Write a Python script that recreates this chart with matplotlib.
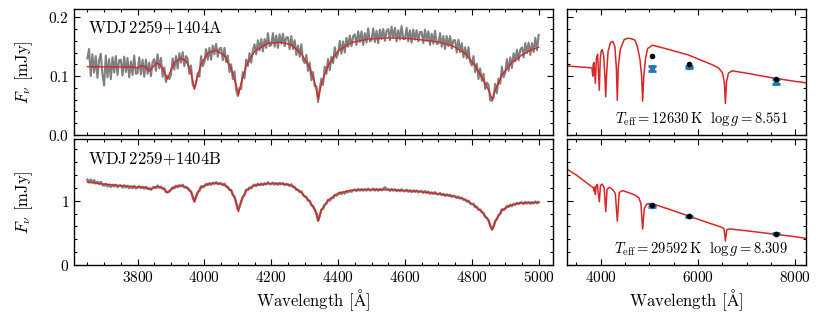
import numpy as np
import matplotlib.pyplot as plt
from matplotlib.ticker import MultipleLocator

plt.rcParams.update({
    'font.family': 'serif',
    'font.serif': ['cmr10'],
    'mathtext.fontset': 'cm',
    'axes.formatter.use_mathtext': True,
    'axes.linewidth': 1.0,
    'font.size': 11,
})

# observed spectra (every 5 A from 3650 to 5000)
obs_wave = np.arange(3650, 5001, 5)
obs_a = [
    0.130, 0.146, 0.100, 0.137, 0.106, 0.134, 0.097, 0.127, 0.138, 0.103,
    0.084, 0.135, 0.098, 0.129, 0.095, 0.132, 0.106, 0.134, 0.102, 0.127,
    0.128, 0.101, 0.133, 0.107, 0.131, 0.098, 0.125, 0.102, 0.135, 0.104,
    0.105, 0.132, 0.103, 0.128, 0.099, 0.128, 0.104, 0.123, 0.100, 0.124,
    0.129, 0.109, 0.137, 0.113, 0.131, 0.099, 0.115, 0.090, 0.101, 0.095,
    0.102, 0.130, 0.111, 0.134, 0.113, 0.139, 0.123, 0.141, 0.117, 0.134,
    0.129, 0.104, 0.118, 0.086, 0.080, 0.088, 0.105, 0.099, 0.134, 0.117,
    0.123, 0.146, 0.128, 0.148, 0.128, 0.152, 0.137, 0.155, 0.133, 0.147,
    0.148, 0.127, 0.148, 0.124, 0.135, 0.107, 0.120, 0.095, 0.108, 0.077,
    0.066, 0.080, 0.078, 0.107, 0.096, 0.128, 0.117, 0.139, 0.123, 0.144,
    0.154, 0.137, 0.161, 0.144, 0.163, 0.142, 0.163, 0.148, 0.173, 0.151,
    0.153, 0.173, 0.150, 0.169, 0.148, 0.171, 0.155, 0.172, 0.151, 0.166,
    0.166, 0.146, 0.168, 0.146, 0.161, 0.136, 0.152, 0.133, 0.154, 0.127,
    0.122, 0.136, 0.109, 0.123, 0.093, 0.107, 0.083, 0.083, 0.056, 0.079,
    0.096, 0.085, 0.116, 0.104, 0.129, 0.110, 0.133, 0.122, 0.149, 0.131,
    0.139, 0.160, 0.138, 0.159, 0.140, 0.165, 0.150, 0.169, 0.151, 0.168,
    0.171, 0.153, 0.176, 0.158, 0.176, 0.153, 0.173, 0.157, 0.181, 0.159,
    0.161, 0.181, 0.158, 0.177, 0.156, 0.179, 0.163, 0.180, 0.160, 0.177,
    0.180, 0.161, 0.184, 0.165, 0.182, 0.159, 0.178, 0.162, 0.185, 0.163,
    0.163, 0.182, 0.159, 0.178, 0.157, 0.179, 0.162, 0.178, 0.159, 0.175,
    0.175, 0.156, 0.179, 0.160, 0.176, 0.153, 0.172, 0.155, 0.177, 0.155,
    0.155, 0.173, 0.150, 0.168, 0.146, 0.168, 0.151, 0.168, 0.147, 0.161,
    0.161, 0.140, 0.162, 0.141, 0.156, 0.132, 0.149, 0.130, 0.149, 0.124,
    0.118, 0.134, 0.107, 0.121, 0.095, 0.113, 0.092, 0.104, 0.078, 0.089,
    0.085, 0.059, 0.058, 0.063, 0.087, 0.071, 0.096, 0.087, 0.116, 0.098,
    0.106, 0.129, 0.109, 0.132, 0.114, 0.139, 0.125, 0.145, 0.127, 0.145,
    0.149, 0.132, 0.156, 0.139, 0.157, 0.136, 0.156, 0.141, 0.165, 0.144,
    0.170]
obs_b = [
    1.328, 1.287, 1.330, 1.289, 1.320, 1.271, 1.296, 1.261, 1.294, 1.247,
    1.237, 1.264, 1.226, 1.253, 1.218, 1.251, 1.224, 1.248, 1.214, 1.237,
    1.239, 1.208, 1.241, 1.210, 1.234, 1.197, 1.224, 1.197, 1.230, 1.195,
    1.206, 1.227, 1.197, 1.219, 1.191, 1.217, 1.186, 1.195, 1.174, 1.204,
    1.216, 1.200, 1.236, 1.206, 1.219, 1.185, 1.190, 1.139, 1.133, 1.145,
    1.171, 1.209, 1.196, 1.235, 1.212, 1.242, 1.226, 1.249, 1.209, 1.214,
    1.201, 1.163, 1.144, 1.060, 0.988, 1.059, 1.133, 1.156, 1.227, 1.213,
    1.226, 1.262, 1.246, 1.273, 1.250, 1.281, 1.265, 1.289, 1.259, 1.274,
    1.271, 1.243, 1.266, 1.221, 1.218, 1.169, 1.168, 1.092, 1.063, 0.969,
    0.864, 0.908, 0.986, 1.063, 1.091, 1.172, 1.169, 1.206, 1.197, 1.233,
    1.251, 1.232, 1.264, 1.244, 1.268, 1.245, 1.271, 1.255, 1.287, 1.260,
    1.260, 1.282, 1.253, 1.276, 1.250, 1.277, 1.258, 1.275, 1.246, 1.261,
    1.259, 1.232, 1.256, 1.215, 1.216, 1.171, 1.175, 1.137, 1.147, 1.092,
    1.065, 1.060, 1.004, 1.000, 0.933, 0.920, 0.859, 0.809, 0.693, 0.771,
    0.861, 0.876, 0.941, 0.956, 1.013, 1.004, 1.045, 1.044, 1.090, 1.082,
    1.099, 1.128, 1.105, 1.135, 1.114, 1.148, 1.134, 1.161, 1.142, 1.163,
    1.174, 1.153, 1.182, 1.160, 1.181, 1.160, 1.179, 1.161, 1.190, 1.162,
    1.167, 1.190, 1.161, 1.184, 1.158, 1.185, 1.165, 1.186, 1.210, 1.181,
    1.181, 1.157, 1.184, 1.161, 1.179, 1.152, 1.172, 1.151, 1.178, 1.151,
    1.151, 1.172, 1.142, 1.164, 1.136, 1.162, 1.141, 1.160, 1.133, 1.151,
    1.151, 1.125, 1.150, 1.124, 1.141, 1.111, 1.130, 1.108, 1.133, 1.103,
    1.101, 1.120, 1.087, 1.107, 1.077, 1.100, 1.077, 1.094, 1.064, 1.078,
    1.073, 1.044, 1.065, 1.036, 1.049, 1.016, 1.023, 0.989, 1.002, 0.960,
    0.946, 0.954, 0.904, 0.906, 0.858, 0.864, 0.823, 0.809, 0.749, 0.734,
    0.701, 0.612, 0.559, 0.594, 0.685, 0.711, 0.775, 0.797, 0.867, 0.858,
    0.876, 0.917, 0.906, 0.937, 0.917, 0.952, 0.940, 0.967, 0.949, 0.971,
    0.974, 0.952, 0.981, 0.959, 0.980, 0.954, 0.978, 0.960, 0.989, 0.963,
    0.980]

# best-fit model spectra
wave_model_a = [3650, 3700, 3750, 3790, 3798, 3806, 3815, 3825, 3835, 3845,
                3857, 3870, 3882, 3889, 3897, 3910, 3930, 3945, 3958, 3965,
                3970, 3976, 3990, 4010, 4035, 4060, 4080, 4095, 4102, 4109,
                4125, 4150, 4190, 4230, 4260, 4290, 4315, 4332, 4341, 4350,
                4370, 4400, 4440, 4490, 4550, 4600, 4650, 4700, 4740, 4780,
                4810, 4835, 4852, 4861, 4870, 4890, 4920, 4950, 4975, 5000]
flux_model_a = [0.1160, 0.1158, 0.1155, 0.1155, 0.1135, 0.1160, 0.1175, 0.1150, 0.1085, 0.1150,
                0.1225, 0.1180, 0.1050, 0.0950, 0.1060, 0.1230, 0.1300, 0.1260, 0.1100, 0.0920,
                0.0775, 0.0930, 0.1200, 0.1390, 0.1440, 0.1350, 0.1130, 0.0850, 0.0680, 0.0870,
                0.1180, 0.1420, 0.1560, 0.1575, 0.1530, 0.1380, 0.1150, 0.0850, 0.0610, 0.0870,
                0.1180, 0.1430, 0.1570, 0.1630, 0.1650, 0.1645, 0.1615, 0.1580, 0.1520, 0.1390,
                0.1180, 0.0930, 0.0740, 0.0605, 0.0760, 0.1020, 0.1230, 0.1360, 0.1440, 0.1490]
wave_model_b = [3650, 3700, 3750, 3800, 3825, 3838, 3850, 3860, 3878, 3889,
                3900, 3915, 3935, 3955, 3963, 3970, 3977, 3990, 4010, 4035,
                4060, 4080, 4094, 4102, 4110, 4125, 4150, 4190, 4230, 4260,
                4290, 4315, 4332, 4341, 4350, 4370, 4400, 4440, 4490, 4550,
                4600, 4650, 4700, 4740, 4775, 4805, 4830, 4850, 4861, 4872,
                4890, 4910, 4940, 4970, 5000]
flux_model_b = [1.290, 1.260, 1.235, 1.215, 1.205, 1.175, 1.205, 1.220, 1.195, 1.125,
                1.180, 1.225, 1.235, 1.175, 1.100, 0.985, 1.100, 1.210, 1.260, 1.275,
                1.250, 1.160, 1.000, 0.830, 1.000, 1.160, 1.240, 1.270, 1.265, 1.240,
                1.130, 0.990, 0.850, 0.684, 0.860, 1.010, 1.120, 1.165, 1.177, 1.170,
                1.160, 1.140, 1.110, 1.075, 1.030, 0.940, 0.830, 0.690, 0.544, 0.700,
                0.850, 0.920, 0.960, 0.970, 0.975]

# full model SEDs
wave_sed_a = [3270, 3500, 3700, 3800, 3820, 3835, 3845, 3860, 3889, 3910,
              3935, 3970, 3990, 4010, 4030, 4060, 4085, 4102, 4118, 4150,
              4200, 4250, 4290, 4320, 4340, 4360, 4400, 4480, 4560, 4650,
              4705, 4760, 4808, 4840, 4861, 4885, 4920, 4965, 5060, 5300,
              5800, 6300, 6420, 6500, 6540, 6563, 6585, 6625, 6700, 7000,
              7500, 8000, 8220]
flux_sed_a = [0.1175, 0.1160, 0.1150, 0.1140, 0.1130, 0.1000, 0.1200, 0.1230, 0.0880, 0.1300,
              0.1370, 0.0760, 0.1300, 0.1430, 0.1450, 0.1350, 0.1000, 0.0650, 0.1000, 0.1420,
              0.1570, 0.1590, 0.1500, 0.1150, 0.0590, 0.1150, 0.1450, 0.1620, 0.1645, 0.1630,
              0.1610, 0.1480, 0.1270, 0.1000, 0.0576, 0.1000, 0.1300, 0.1470, 0.1525, 0.1475,
              0.1360, 0.1190, 0.1140, 0.1060, 0.0900, 0.0537, 0.0900, 0.1050, 0.1090, 0.1050,
              0.0975, 0.0910, 0.0887]
wave_sed_b = [3270, 3500, 3700, 3850, 3865, 3875, 3889, 3905, 3930, 3970,
              3995, 4030, 4070, 4102, 4130, 4180, 4250, 4300, 4340, 4380,
              4450, 4600, 4700, 4780, 4825, 4861, 4895, 4940, 5000, 5100,
              5400, 5800, 6200, 6480, 6535, 6563, 6590, 6650, 7000, 7600,
              8000, 8220]
flux_sed_b = [1.510, 1.400, 1.285, 1.200, 1.150, 1.215, 1.100, 1.230, 1.255, 0.985,
              1.240, 1.260, 1.200, 0.830, 1.180, 1.210, 1.170, 1.110, 0.684, 1.130,
              1.160, 1.120, 1.090, 1.050, 0.960, 0.560, 0.880, 0.945, 0.958, 0.945,
              0.870, 0.765, 0.660, 0.590, 0.565, 0.375, 0.550, 0.562, 0.533, 0.478,
              0.440, 0.415]

# photometry (observed with errors, and synthetic from model)
phot_wave = [5060, 5815, 7600]
phot_a = [0.1135, 0.1158, 0.0905]
phot_err_a = [0.0045, 0.0015, 0.0040]
synth_a = [0.1335, 0.1203, 0.0944]
phot_b = [0.922, 0.760, 0.490]
phot_err_b = [0.012, 0.010, 0.012]
synth_b = [0.940, 0.757, 0.476]

names = ['WDJ$\\,$2259+1404A', 'WDJ$\\,$2259+1404B']
params = [r'$T_{\mathrm{eff}} = 12630\,\mathrm{K}\ \ \log g = 8.551$',
          r'$T_{\mathrm{eff}} = 29592\,\mathrm{K}\ \ \log g = 8.309$']

RED = '#d62728'
BLUE = '#1f77b4'
GREY = '#808080'

fig = plt.figure(figsize=(8.3, 3.12), dpi=100)
ax_sa = fig.add_axes([0.0892, 0.5673, 0.5767, 0.4038])
ax_sb = fig.add_axes([0.0892, 0.1506, 0.5767, 0.4054])
ax_pa = fig.add_axes([0.6828, 0.5673, 0.2880, 0.4038])
ax_pb = fig.add_axes([0.6828, 0.1506, 0.2880, 0.4054])

for ax in (ax_sa, ax_sb, ax_pa, ax_pb):
    ax.tick_params(which='both', direction='in', top=True, right=True, width=0.8)
    ax.tick_params(which='major', length=4)
    ax.tick_params(which='minor', length=2)

# spectra
ax_sa.plot(obs_wave, obs_a, color=GREY, lw=1.5)
ax_sa.plot(wave_model_a, flux_model_a, color=RED, lw=1.0)
ax_sb.plot(obs_wave, obs_b, color=GREY, lw=1.8)
ax_sb.plot(wave_model_b, flux_model_b, color=RED, lw=1.0)

for ax in (ax_sa, ax_sb):
    ax.set_xlim(3610, 5042)
    ax.xaxis.set_major_locator(MultipleLocator(200))
    ax.xaxis.set_minor_locator(MultipleLocator(50))
    ax.set_ylabel(r'$F_\nu$ [mJy]', fontsize=12)
    ax.yaxis.set_label_coords(-0.081, 0.5)

ax_sa.set_ylim(0, 0.214)
ax_sa.yaxis.set_major_locator(MultipleLocator(0.1))
ax_sa.yaxis.set_minor_locator(MultipleLocator(0.02))
ax_sa.tick_params(labelbottom=False)
ax_sb.set_ylim(0, 1.97)
ax_sb.yaxis.set_major_locator(MultipleLocator(1))
ax_sb.yaxis.set_minor_locator(MultipleLocator(0.2))
ax_sb.set_xlabel(r'Wavelength [$\mathrm{\AA}$]', fontsize=12, labelpad=1.5)

ax_sa.text(0.029, 0.81, names[0], transform=ax_sa.transAxes, fontsize=12, va='baseline')
ax_sb.text(0.029, 0.804, names[1], transform=ax_sb.transAxes, fontsize=12, va='baseline')

# SED panels
ax_pa.plot(wave_sed_a, flux_sed_a, color=RED, lw=1.1)
ax_pa.errorbar(phot_wave, phot_a, yerr=phot_err_a, fmt='o', ms=3, color=BLUE,
               elinewidth=3, capsize=3, capthick=2, zorder=3)
ax_pa.plot(phot_wave, synth_a, 'o', color='k', ms=3, zorder=4)
ax_pb.plot(wave_sed_b, flux_sed_b, color=RED, lw=1.1)
ax_pb.errorbar(phot_wave, phot_b, yerr=phot_err_b, fmt='o', ms=3, color=BLUE,
               elinewidth=3, capsize=3, capthick=2, zorder=3)
ax_pb.plot(phot_wave, synth_b, 'o', color='k', ms=3, zorder=4)

for ax in (ax_pa, ax_pb):
    ax.set_xlim(3300, 8215)
    ax.xaxis.set_major_locator(MultipleLocator(2000))
    ax.xaxis.set_minor_locator(MultipleLocator(500))
    ax.tick_params(labelleft=False)

ax_pa.set_ylim(ax_sa.get_ylim())
ax_pa.yaxis.set_major_locator(MultipleLocator(0.1))
ax_pa.yaxis.set_minor_locator(MultipleLocator(0.02))
ax_pa.tick_params(labelbottom=False)
ax_pb.set_ylim(ax_sb.get_ylim())
ax_pb.yaxis.set_major_locator(MultipleLocator(1))
ax_pb.yaxis.set_minor_locator(MultipleLocator(0.2))
ax_pb.set_xlabel(r'Wavelength [$\mathrm{\AA}$]', fontsize=12, labelpad=1.5)

ax_pa.text(0.926, 0.095, params[0], transform=ax_pa.transAxes, fontsize=10.5,
           ha='right', va='baseline')
ax_pb.text(0.926, 0.095, params[1], transform=ax_pb.transAxes, fontsize=10.5,
           ha='right', va='baseline')

fig.savefig('out.png', dpi=100)
